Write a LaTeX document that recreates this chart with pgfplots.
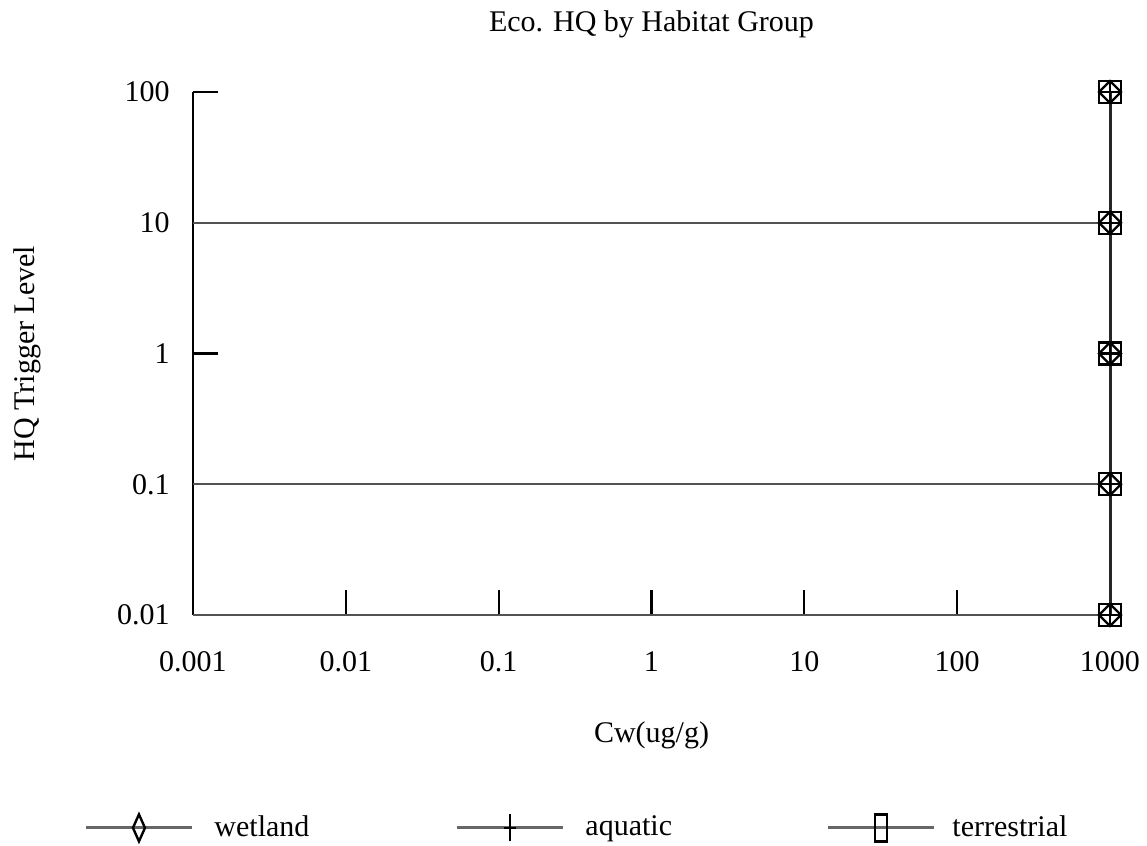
\documentclass[border=0pt]{standalone}
\usepackage{fontspec}
\setmainfont{Liberation Serif}
\usepackage{pgfplots}
\pgfplotsset{compat=1.18}
\begin{document}
\fontsize{15}{18}\selectfont
\begin{tikzpicture}
\useasboundingbox (0,0) rectangle (573.5pt,423pt);
\begin{axis}[
  at={(96.5pt,115.5pt)}, anchor=south west,
  scale only axis, width=458.5pt, height=261.5pt,
  xmode=log, ymode=log,
  xmin=0.001, xmax=1000, ymin=0.01, ymax=100,
  axis x line=bottom, axis y line=left,
  axis line style={-, line width=1.1pt},
  x axis line style={black!65},
  y axis line style={black},
  clip=false,
  xminorticks=false, yminorticks=false,
  tick align=inside,
  major tick length=12.5pt,
  tick style={black, line width=1.1pt},
  xtick={0.001,0.01,0.1,1,10,100,1000},
  xticklabels={0.001,0.01,0.1,1,10,100,1000},
  ytick={0.01,0.1,1,10,100},
  yticklabels={0.01,0.1,1,10,100},
  xticklabel style={yshift=-13pt},
  yticklabel style={xshift=-6.5pt},
  title={Eco. HQ by Habitat Group},
  title style={at={(axis description cs:0.5,1.107)}, anchor=center},
  xlabel={Cw(ug/g)},
  xlabel style={at={(axis description cs:0.5,-0.2294)}, anchor=center},
  ylabel={HQ Trigger Level},
  ylabel style={at={(axis description cs:-0.181,0.5)}, anchor=center},
  legend columns=3,
  legend style={draw=none, fill=none, at={(axis description cs:0.422,-0.407)}, anchor=center,
    inner sep=0pt, nodes={inner sep=0pt, anchor=west},
    /tikz/every even column/.append style={column sep=0pt}},
]
\addplot[black!68, line width=1.2pt, forget plot] coordinates {(0.001,10) (1000,10)};
\addplot[black!68, line width=1.2pt, forget plot] coordinates {(0.001,0.1) (1000,0.1)};
\addplot[black!68, line width=1.2pt, forget plot] coordinates {(0.001,0.01) (1000,0.01)};
\addplot[black!85, line width=1.5pt, mark=diamond, mark size=5.5pt,
  mark options={black, solid, line width=1.2pt, xscale=1.333},
  legend image code/.code={
    \draw[black!60, line width=1.5pt] (0pt,0pt) -- (53pt,0pt);
    \draw[black, line width=1.2pt] (26.5pt,-6.75pt) -- (29.5pt,0pt) -- (26.5pt,6.75pt) -- (23.5pt,0pt) -- cycle;
  }] coordinates {(1000,0.01) (1000,0.1) (1000,1) (1000,10) (1000,100)};
\addlegendentry{\makebox[131pt][l]{\hspace{10.5pt}wetland}}
\addplot[black!85, line width=1.5pt, mark=+, mark size=5.5pt,
  mark options={black, solid, line width=1.2pt},
  legend image code/.code={
    \draw[black!60, line width=1.5pt] (0pt,0pt) -- (53pt,0pt);
    \draw[black, line width=1.2pt] (26.5pt,-6.75pt) -- (26.5pt,6.75pt);
    \draw[black, line width=1.2pt] (23.5pt,0pt) -- (29.5pt,0pt);
  }] coordinates {(1000,0.01) (1000,0.1) (1000,1) (1000,10) (1000,100)};
\addlegendentry{\makebox[131pt][l]{\hspace{10.5pt}aquatic}}
\addplot[black!85, line width=1.5pt, mark=square, mark size=5.5pt,
  mark options={black, solid, line width=1.2pt},
  legend image code/.code={
    \draw[black!60, line width=1.5pt] (0pt,0pt) -- (53pt,0pt);
    \draw[black, line width=1.2pt] (23.5pt,-6.75pt) rectangle (29.5pt,6.75pt);
  }] coordinates {(1000,0.01) (1000,0.1) (1000,1) (1000,10) (1000,100)};
\addlegendentry{\makebox[70pt][l]{\hspace{8.5pt}terrestrial}}
\end{axis}
\end{tikzpicture}
\end{document}
